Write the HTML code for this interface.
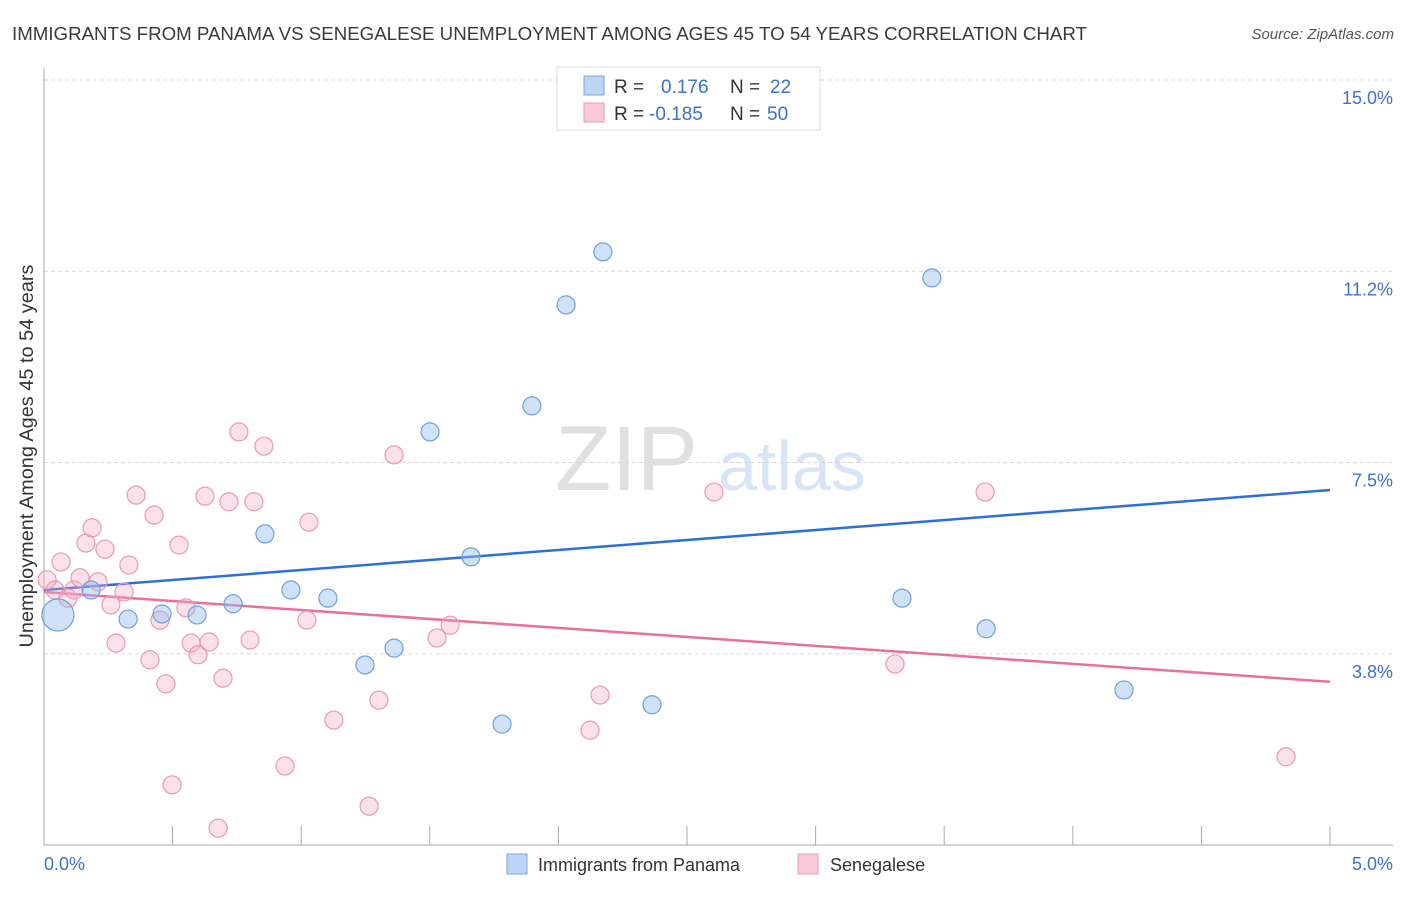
<!DOCTYPE html>
<html><head><meta charset="utf-8">
<style>
body{margin:0;background:#fff;font-family:"Liberation Sans",sans-serif;}
svg text{font-family:"Liberation Sans",sans-serif;}
</style></head>
<body>
<svg id="chart" width="1406" height="892" viewBox="0 0 1406 892" xmlns="http://www.w3.org/2000/svg">
<text x="12" y="40" font-size="18.5" fill="#3a3a3a" textLength="1075" lengthAdjust="spacingAndGlyphs">IMMIGRANTS FROM PANAMA VS SENEGALESE UNEMPLOYMENT AMONG AGES 45 TO 54 YEARS CORRELATION CHART</text>
<text x="1394" y="39" font-size="15" fill="#555" font-style="italic" text-anchor="end">Source: ZipAtlas.com</text>
<g>
<text x="555" y="490" font-size="92" fill="#e0e0e0" font-family="Liberation Serif,serif">ZIP</text>
<text x="718" y="490" font-size="70" fill="#d9e5f5">atlas</text>
</g>
<g id="grid"></g><g id="axes"></g><g id="trends"></g><g id="points"></g>
<text transform="translate(33,456) rotate(-90)" font-size="19.5" fill="#333" text-anchor="middle" textLength="383" lengthAdjust="spacingAndGlyphs">Unemployment Among Ages 45 to 54 years</text>
<g>
<rect x="557" y="67" width="263" height="63" fill="#fff" stroke="#ddd"/>
<rect x="584" y="76" width="20" height="19" fill="#bcd5f5" stroke="#7aa6e0"/>
<rect x="584" y="103" width="20" height="19" fill="#f9c9d8" stroke="#e89ab5"/>
<text x="614" y="93" font-size="19" fill="#333">R =</text>
<text x="661" y="93" font-size="19" fill="#3a72cc">0.176</text>
<text x="730" y="93" font-size="19" fill="#333">N =</text>
<text x="770" y="93" font-size="19" fill="#3a72cc">22</text>
<text x="614" y="120" font-size="19" fill="#333">R =</text>
<text x="649" y="120" font-size="19" fill="#3a72cc">-0.185</text>
<text x="730" y="120" font-size="19" fill="#333">N =</text>
<text x="767" y="120" font-size="19" fill="#3a72cc">50</text>
</g>
<g>
<rect x="507" y="854" width="20" height="20" fill="#bcd5f5" stroke="#7aa6e0"/>
<text x="538" y="871" font-size="18" fill="#333">Immigrants from Panama</text>
<rect x="798" y="854" width="20" height="20" fill="#f9c9d8" stroke="#e89ab5"/>
<text x="830" y="871" font-size="18" fill="#333">Senegalese</text>
</g>
</svg>
<script>
const yTicks=[3.75,7.5,11.25,15.0];
const yTickLabels=["3.8%","7.5%","11.2%","15.0%"];
const xTickLabels=["0.0%","5.0%"];
const blueX=[0.054,0.183,0.327,0.459,0.595,0.735,0.859,0.960,1.104,1.248,1.361,1.501,1.660,1.781,1.897,2.030,2.173,2.364,3.336,3.452,3.663,4.199];
const blueY=[4.51,5.0,4.43,4.53,4.51,4.73,6.10,5.0,4.84,3.53,3.86,8.10,5.65,2.37,8.61,10.59,11.63,2.75,4.84,11.12,4.24,3.04];
const pinkX=[0.012,0.043,0.066,0.093,0.117,0.140,0.163,0.187,0.210,0.237,0.260,0.280,0.311,0.330,0.358,0.412,0.428,0.451,0.474,0.498,0.525,0.552,0.572,0.599,0.626,0.642,0.677,0.696,0.719,0.758,0.801,0.816,0.855,0.937,1.022,1.030,1.127,1.264,1.302,1.361,1.528,1.579,2.123,2.162,2.605,3.309,3.659,4.829];
const pinkY=[5.20,5.00,5.55,4.84,5.00,5.24,5.92,6.22,5.16,5.80,4.71,3.96,4.96,5.49,6.86,3.63,6.47,4.41,3.16,1.18,5.88,4.65,3.96,3.73,6.84,3.98,0.33,3.27,6.73,8.10,4.02,6.73,7.82,1.55,4.41,6.33,2.45,0.76,2.84,7.65,4.06,4.31,2.25,2.94,6.92,3.55,6.92,1.73];
const blueTrend=[5.0,6.96];
const pinkTrend=[4.96,3.20];
const trendX=[0,5];
const NS="http://www.w3.org/2000/svg";
const X=v=>44+v*257.2, Y=v=>845-v*51.0;
function mk(p,t,a){const e=document.createElementNS(NS,t);for(const k in a)e.setAttribute(k,a[k]);document.getElementById(p).appendChild(e);return e;}
yTicks.forEach((t,i)=>{
 const g=mk('grid','line',{x1:44,x2:1393,y1:Y(t),y2:Y(t),stroke:'#d8d8d8','stroke-dasharray':'4,3'});
 
 
 const l=mk('grid','text',{x:1393,y:Y(t)+24,'font-size':18,fill:'#3a72cc','text-anchor':'end'});
 l.textContent=yTickLabels[i];
 
 
});
const ax=mk('axes','line',{x1:44,x2:44,y1:68,y2:845,stroke:'#aaa'});


const bx=mk('axes','line',{x1:44,x2:1393,y1:845,y2:845,stroke:'#aaa'});


for(let i=0;i<=10;i++){const t=mk('axes','line',{x1:X(i*0.5),x2:X(i*0.5),y1:826,y2:845,stroke:'#aaa'});
 
 }
xTickLabels.forEach((s,i)=>{const t=mk('axes','text',{x:i?1393:44,y:870,'font-size':18,fill:'#3a72cc','text-anchor':i?'end':'start'});t.textContent=s;
 
 });
function dots(xs,ys,fill,stroke,name){xs.forEach((x,i)=>{const c=mk('points','circle',{cx:X(x),cy:Y(ys[i]),r:(name==='blue-point'&&i===0)?16:9,fill:fill,stroke:stroke,'stroke-width':1.2});
 
 });}
dots(pinkX,pinkY,'rgba(246,170,195,0.35)','#e89ab5','pink-point');
dots(blueX,blueY,'rgba(150,190,240,0.45)','#6f9fe0','blue-point');
const bl=mk('trends','line',{x1:X(trendX[0]),y1:Y(blueTrend[0]),x2:X(trendX[1]),y2:Y(blueTrend[1]),stroke:'#2c6fd6','stroke-width':2.5});


const pl=mk('trends','line',{x1:X(trendX[0]),y1:Y(pinkTrend[0]),x2:X(trendX[1]),y2:Y(pinkTrend[1]),stroke:'#e8709a','stroke-width':2.5});


</script>
</body></html>
